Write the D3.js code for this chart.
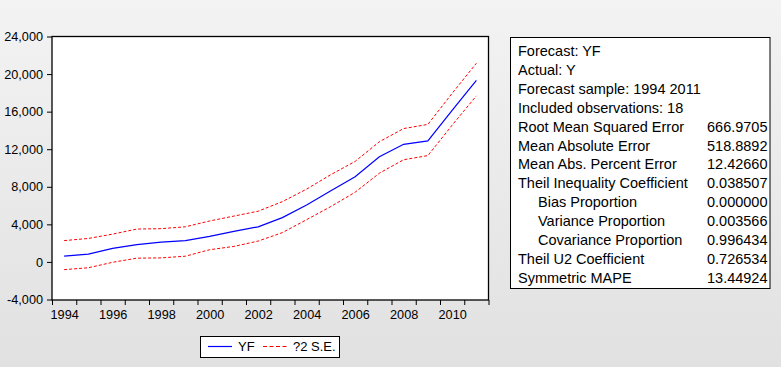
<!DOCTYPE html>
<html lang="en">
  <head>
    <meta charset="utf-8">
    <title>Forecast YF</title>
    <script src="https://d3js.org/d3.v7.js"></script>
    <style>
      body { margin: 0; }
      text { font-family: "Liberation Sans", Arial, sans-serif; fill: #000; }
    </style>
  </head>

  <body>
  <script>

// data

  var years = [1994, 1995, 1996, 1997, 1998, 1999, 2000, 2001, 2002,
               2003, 2004, 2005, 2006, 2007, 2008, 2009, 2010, 2011];
  var yf    = [620, 830, 1450, 1840, 2100, 2260, 2720, 3250, 3740,
               4720, 6060, 7580, 9060, 11200, 12520, 12890, 16140, 19320];
  var upper = [2270, 2500, 2960, 3500, 3540, 3740, 4360, 4880, 5400,
               6420, 7750, 9300, 10700, 12800, 14200, 14640, 17950, 21150];
  var lower = [-820, -620, -40, 400, 430, 610, 1300, 1650, 2220,
               3120, 4500, 5900, 7420, 9450, 10880, 11320, 14560, 17680];
  var yTicks = [-4000, 0, 4000, 8000, 12000, 16000, 20000, 24000];
  var xLabels = [1994, 1996, 1998, 2000, 2002, 2004, 2006, 2008, 2010];

  var statNames = ["Forecast: YF", "Actual: Y", "Forecast sample: 1994 2011",
                   "Included observations: 18", "Root Mean Squared Error",
                   "Mean Absolute Error", "Mean Abs. Percent Error",
                   "Theil Inequality Coefficient", "Bias Proportion",
                   "Variance Proportion", "Covariance Proportion",
                   "Theil U2 Coefficient", "Symmetric MAPE"];
  var statValues = ["", "", "", "", "666.9705", "518.8892", "12.42660",
                    "0.038507", "0.000000", "0.003566", "0.996434",
                    "0.726534", "13.44924"];
  var statIndent = [0, 0, 0, 0, 0, 0, 0, 0, 1, 1, 1, 0, 0];

  var w = 781;
  var h = 367;
  var plot = {left: 52, right: 488.5, top: 36.5, bottom: 300};

  var svg = d3.select("body")
    .append("svg")
      .attr("width", w)
      .attr("height", h);

// grey background gradient

  var grad = svg.append("defs").append("linearGradient")
      .attr("id", "bg")
      .attr("x1", 0).attr("y1", 0).attr("x2", 0).attr("y2", 1);
  grad.append("stop").attr("offset", "0%").attr("stop-color", "#f3f3f3");
  grad.append("stop").attr("offset", "100%").attr("stop-color", "#e1e1e1");

  svg.append("rect")
      .attr("width", w)
      .attr("height", h)
      .attr("fill", "url(#bg)");

// scales: each year is one interval, points sit in the middle

  var xScale = d3.scaleLinear()
      .domain([1994, 2012])
      .range([plot.left, plot.right]);

  var yScale = d3.scaleLinear()
      .domain([-4000, 24000])
      .range([299.5, plot.top]);

  svg.append("rect")
      .attr("x", plot.left)
      .attr("y", plot.top)
      .attr("width", plot.right - plot.left)
      .attr("height", plot.bottom - plot.top)
      .attr("fill", "white")
      .attr("stroke", "black")
      .attr("stroke-width", 1.3);

// axes

  var fmt = d3.format(",");
  var yAxis = d3.axisLeft(yScale)
      .tickValues(yTicks)
      .tickSize(5)
      .tickPadding(4)
      .tickFormat(d => fmt(d).replace("\u2212", "-"));

  var yG = svg.append("g")
      .attr("transform", `translate(${plot.left}, 0)`)
      .call(yAxis);

  var xTickAxis = d3.axisBottom(xScale)
      .tickValues(d3.range(1994, 2013))
      .tickSize(5)
      .tickFormat("");

  var xLabelAxis = d3.axisBottom(xScale)
      .tickValues(xLabels.map(d => d + 0.5))
      .tickSize(0)
      .tickPadding(10)
      .tickFormat(d => String(d - 0.5));

  var xG = svg.append("g")
      .attr("transform", `translate(0, ${plot.bottom})`)
      .call(xTickAxis);
  var xL = svg.append("g")
      .attr("transform", `translate(0, ${plot.bottom})`)
      .call(xLabelAxis);

  [yG, xG, xL].forEach(g => {
    g.select(".domain").remove();
    g.selectAll("line").attr("stroke", "black");
    g.selectAll("text").style("font-size", "12.7px");
  });

// lines

  var line = d3.line()
      .x((d, i) => xScale(years[i] + 0.5))
      .y(d => yScale(d));

  svg.append("path")
      .datum(upper)
      .attr("d", line)
      .attr("fill", "none")
      .attr("stroke", "#ff0000")
      .attr("stroke-width", 1)
      .attr("stroke-dasharray", "3,2");

  svg.append("path")
      .datum(lower)
      .attr("d", line)
      .attr("fill", "none")
      .attr("stroke", "#ff0000")
      .attr("stroke-width", 1)
      .attr("stroke-dasharray", "3,2");

  svg.append("path")
      .datum(yf)
      .attr("d", line)
      .attr("fill", "none")
      .attr("stroke", "#0000ff")
      .attr("stroke-width", 1.2);

// legend

  var leg = svg.append("g");
  leg.append("rect")
      .attr("x", 200.5).attr("y", 336.5)
      .attr("width", 139).attr("height", 21)
      .attr("fill", "white")
      .attr("stroke", "black");
  leg.append("line")
      .attr("x1", 208).attr("x2", 232)
      .attr("y1", 346.5).attr("y2", 346.5)
      .attr("stroke", "#0000ff").attr("stroke-width", 1.2);
  leg.append("text")
      .attr("x", 238).attr("y", 351)
      .style("font-size", "13px")
      .text("YF");
  leg.append("line")
      .attr("x1", 263).attr("x2", 287)
      .attr("y1", 346.5).attr("y2", 346.5)
      .attr("stroke", "#ff0000")
      .attr("stroke-dasharray", "4,2.5");
  leg.append("text")
      .attr("x", 293).attr("y", 351)
      .style("font-size", "13px")
      .text("?2 S.E.");

// forecast statistics box

  var box = svg.append("g");
  box.append("rect")
      .attr("x", 510.5).attr("y", 37.5)
      .attr("width", 259.5).attr("height", 251)
      .attr("fill", "white")
      .attr("stroke", "black");

  box.selectAll("text.name")
    .data(statNames)
    .enter().append("text")
      .attr("class", "name")
      .attr("x", (d, i) => 518 + statIndent[i] * 20)
      .attr("y", (d, i) => 50.7 + i * 18.95)
      .attr("dy", "0.35em")
      .style("font-size", "14.5px")
      .text(d => d);

  box.selectAll("text.value")
    .data(statValues)
    .enter().append("text")
      .attr("class", "value")
      .attr("x", 767.5)
      .attr("y", (d, i) => 50.7 + i * 18.95)
      .attr("dy", "0.35em")
      .attr("text-anchor", "end")
      .style("font-size", "14.5px")
      .text(d => d);

  </script>
  </body>

</html>
